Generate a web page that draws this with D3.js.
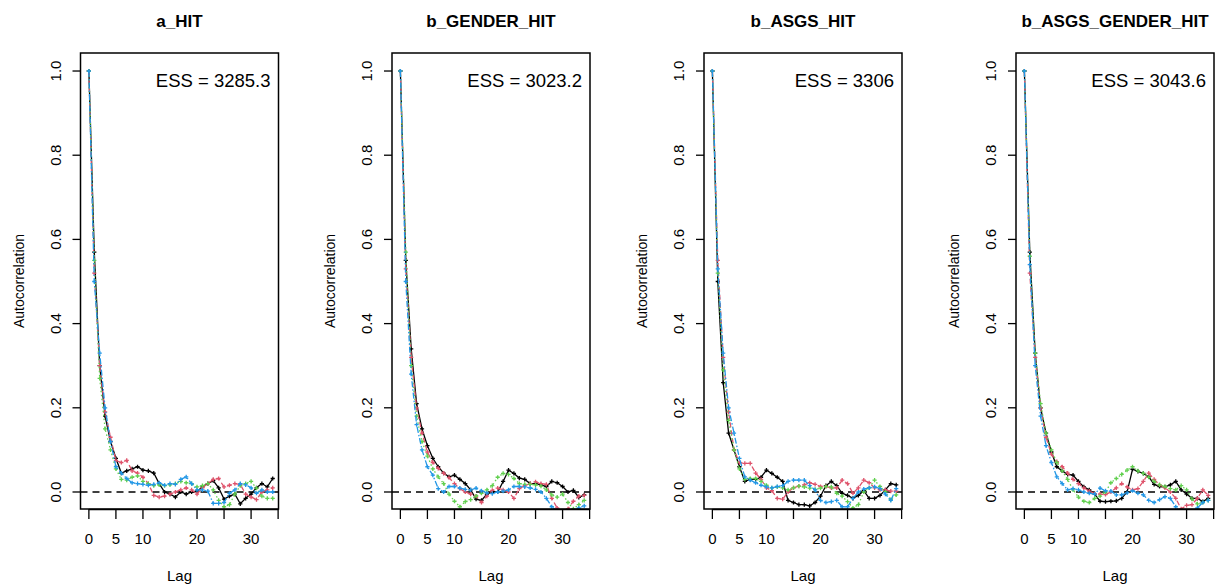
<!DOCTYPE html>
<html>
<head>
<meta charset="utf-8">
<script src="https://cdn.jsdelivr.net/npm/d3@7.9.0/dist/d3.min.js"></script>
<style>
  html, body { margin: 0; padding: 0; background: #fff; }
  svg { display: block; font-family: "Liberation Sans", Arial, sans-serif; }
</style>
</head>
<body>
<svg id="chart" width="1222" height="586"></svg>
<script>
// panel titles and ESS labels
const panelTitles = ['a_HIT', 'b_GENDER_HIT', 'b_ASGS_HIT', 'b_ASGS_GENDER_HIT'];
const essLabels = ['ESS = 3285.3', 'ESS = 3023.2', 'ESS = 3306', 'ESS = 3043.6'];

const lags = [0,1,2,3,4,5,6,7,8,9,10,11,12,13,14,15,16,17,18,19,20,21,22,23,24,25,26,27,28,29,30,31,32,33,34];
const xTicks = [0, 5, 10, 15, 20, 25, 30, 35];
const xTickLabels = ['0', '5', '10', '', '20', '', '30', ''];
const yTicks = [0, 0.2, 0.4, 0.6, 0.8, 1.0];

// chain colours (R 4 palette) and line styles
const chainColors = ['#000000', '#DF536B', '#61D04F', '#2297E6'];
const chainDash = [null, '5,3', '1.5,2.5', '6,2,1.5,2'];

// autocorrelation per chain
const acfAHit = [
  [1,0.57,0.30,0.18,0.12,0.08,0.045,0.05,0.055,0.06,0.052,0.05,0.045,0.02,0.0,-0.005,-0.012,0.0,-0.005,0.0,0.002,0.012,0.02,0.027,0.01,-0.017,-0.01,-0.005,-0.028,-0.015,-0.005,0.01,0.02,0.012,0.032],
  [1,0.52,0.30,0.19,0.13,0.075,0.07,0.075,0.05,0.045,0.035,0.02,-0.008,-0.012,-0.01,-0.005,0.0,0.005,0.01,0.005,-0.005,0.01,0.02,0.03,0.032,0.012,0.016,0.02,0.018,-0.005,-0.012,-0.018,0.0,0.005,0.01],
  [1,0.55,0.27,0.15,0.10,0.055,0.03,0.028,0.035,0.038,0.025,0.02,0.015,0.017,0.015,0.017,0.02,0.025,0.022,0.02,0.012,0.015,0.02,0.005,-0.02,-0.035,-0.03,-0.005,0.015,0.02,0.025,0.009,-0.01,-0.015,-0.015],
  [1,0.50,0.33,0.20,0.12,0.06,0.045,0.032,0.022,0.02,0.018,0.016,0.018,0.022,0.016,0.02,0.018,0.03,0.036,0.02,0.005,0.005,0.002,-0.027,-0.027,-0.025,-0.003,0.005,0.02,0.017,0.01,-0.003,0.005,0.0,0.0]
];
const acfGenderHit = [
  [1,0.55,0.34,0.21,0.15,0.11,0.08,0.06,0.045,0.036,0.04,0.03,0.02,0.005,-0.017,-0.02,-0.005,0.0,0.0,0.025,0.052,0.044,0.033,0.03,0.02,0.02,0.017,0.013,0.025,0.022,0.013,0.0,0.004,-0.013,-0.007],
  [1,0.53,0.32,0.20,0.14,0.095,0.07,0.056,0.045,0.034,0.02,0.008,0.0,-0.005,-0.01,-0.025,-0.01,0.004,0.009,0.005,0.0,-0.015,0.008,0.015,0.02,0.024,0.02,0.018,-0.015,-0.038,-0.046,-0.04,-0.022,-0.01,-0.008],
  [1,0.57,0.30,0.18,0.12,0.085,0.055,0.036,0.02,-0.005,-0.022,-0.035,-0.023,-0.018,-0.01,-0.003,0.005,0.015,0.035,0.044,0.042,0.032,0.02,0.018,0.018,0.017,0.014,0.005,-0.007,-0.012,-0.005,-0.025,-0.04,-0.03,-0.02],
  [1,0.50,0.28,0.16,0.10,0.06,0.04,0.008,0.0,0.013,0.013,0.009,0.006,0.005,0.009,0.003,-0.002,-0.004,0.0,0.002,0.005,0.013,0.013,0.012,0.01,0.006,0.0,-0.015,-0.035,-0.045,-0.05,-0.048,-0.045,-0.038,-0.033]
];
const acfAsgsHit = [
  [1,0.50,0.26,0.14,0.10,0.06,0.025,0.03,0.03,0.035,0.052,0.044,0.035,0.025,-0.02,-0.025,-0.03,-0.03,-0.033,-0.025,-0.01,0.015,0.025,0.015,-0.003,-0.008,-0.015,-0.008,0.003,-0.015,-0.015,-0.008,0.005,0.02,0.017],
  [1,0.55,0.32,0.19,0.10,0.07,0.068,0.068,0.045,0.03,0.01,0.003,-0.015,-0.017,0.0,0.01,0.014,0.017,0.022,0.018,0.013,0.013,0.01,0.01,0.028,0.02,-0.003,0.01,0.028,0.022,0.01,0.005,0.005,0.002,0.002],
  [1,0.52,0.29,0.17,0.10,0.055,0.03,0.032,0.032,0.025,0.016,0.01,0.012,0.01,0.005,0.01,0.014,0.012,0.009,0.006,0.009,0.013,0.012,-0.003,-0.01,-0.023,-0.038,-0.03,0.0,0.01,0.028,0.013,0.0,-0.018,-0.007],
  [1,0.53,0.33,0.20,0.14,0.08,0.036,0.028,0.022,0.016,0.012,0.01,0.013,0.015,0.025,0.028,0.028,0.028,0.015,0.005,-0.02,-0.025,-0.023,-0.02,-0.035,-0.035,-0.015,0.0,0.007,0.01,0.012,0.008,-0.005,-0.02,0.008]
];
const acfAsgsGenderHit = [
  [1,0.57,0.33,0.20,0.14,0.095,0.06,0.05,0.042,0.04,0.025,0.012,0.005,-0.005,-0.022,-0.023,-0.022,-0.021,-0.015,0.0,0.054,0.049,0.044,0.036,0.018,0.013,0.012,0.017,0.025,0.005,-0.005,-0.015,-0.015,-0.023,-0.015],
  [1,0.52,0.32,0.20,0.13,0.09,0.072,0.06,0.045,0.03,0.02,0.01,0.002,-0.004,-0.005,-0.006,0.0,0.01,0.02,0.012,0.005,0.008,0.025,0.045,0.03,0.017,0.01,0.0,-0.015,-0.04,-0.032,-0.03,-0.015,0.005,-0.008],
  [1,0.56,0.33,0.21,0.14,0.10,0.07,0.05,0.03,0.005,-0.012,-0.022,-0.025,-0.015,-0.01,0.0,0.022,0.032,0.042,0.052,0.06,0.05,0.044,0.035,0.025,0.017,0.013,0.008,0.005,0.015,0.005,-0.017,-0.028,-0.025,-0.02],
  [1,0.54,0.30,0.18,0.11,0.07,0.036,0.02,0.005,0.008,0.005,0.0,-0.003,-0.005,0.009,0.003,0.002,-0.007,-0.007,-0.002,0.003,-0.003,-0.007,-0.02,-0.025,-0.018,-0.011,-0.015,-0.035,-0.048,-0.05,-0.045,-0.038,-0.025,-0.02]
];
const panelData = [acfAHit, acfGenderHit, acfAsgsHit, acfAsgsGenderHit];

// layout
const boxLefts = [80.5, 392, 704, 1016];
const boxWidth = 198;
const boxTop = 53, boxBottom = 509;

const svg = d3.select('#chart');

const y = d3.scaleLinear().domain([-0.0404, 1.0428]).range([boxBottom, boxTop]);

panelData.forEach((chains, i) => {
  const left = boxLefts[i];
  const x = d3.scaleLinear().domain([-1.55, 35.07]).range([left, left + boxWidth]);
  const g = svg.append('g');
  const cx = left + boxWidth / 2;

  // clip to plot region
  const clipId = 'clip' + i;
  svg.append('clipPath').attr('id', clipId)
    .append('rect').attr('x', left).attr('y', boxTop)
    .attr('width', boxWidth).attr('height', boxBottom - boxTop);

  const plot = g.append('g').attr('clip-path', `url(#${clipId})`);

  // zero reference line
  plot.append('line')
    .attr('x1', left).attr('x2', left + boxWidth)
    .attr('y1', y(0)).attr('y2', y(0))
    .attr('stroke', '#000').attr('stroke-width', 1.5)
    .attr('stroke-dasharray', '7,5');

  const line = d3.line().x((d, k) => x(lags[k])).y(d => y(d));

  chains.forEach((vals, c) => {
    plot.append('path')
      .attr('d', line(vals))
      .attr('fill', 'none')
      .attr('stroke', chainColors[c])
      .attr('stroke-width', 1.3)
      .attr('stroke-dasharray', chainDash[c]);

    // "+" markers
    plot.append('g').selectAll('path')
      .data(vals)
      .join('path')
      .attr('d', (d, k) => {
        const px = x(lags[k]), py = y(d), s = 2.1;
        return `M${px - s},${py}H${px + s}M${px},${py - s}V${py + s}`;
      })
      .attr('stroke', chainColors[c])
      .attr('stroke-width', 1.3);
  });

  // box
  g.append('rect')
    .attr('x', left).attr('y', boxTop)
    .attr('width', boxWidth).attr('height', boxBottom - boxTop)
    .attr('fill', 'none').attr('stroke', '#000').attr('stroke-width', 1.5);

  // x axis
  const xAxis = g.append('g');
  xAxis.append('line')
    .attr('x1', x(0)).attr('x2', x(35))
    .attr('y1', boxBottom + 0.5).attr('y2', boxBottom + 0.5)
    .attr('stroke', '#000').attr('stroke-width', 1.3);
  xAxis.selectAll('line.tick').data(xTicks).join('line')
    .attr('class', 'tick')
    .attr('x1', d => x(d)).attr('x2', d => x(d))
    .attr('y1', boxBottom).attr('y2', boxBottom + 10)
    .attr('stroke', '#000').attr('stroke-width', 1.3);
  xAxis.selectAll('text').data(xTicks).join('text')
    .attr('x', d => x(d)).attr('y', 544)
    .attr('text-anchor', 'middle')
    .attr('font-size', 15)
    .text((d, k) => xTickLabels[k]);

  // y axis
  const yAxis = g.append('g');
  yAxis.selectAll('line').data(yTicks).join('line')
    .attr('x1', left - 8).attr('x2', left)
    .attr('y1', d => y(d)).attr('y2', d => y(d))
    .attr('stroke', '#000').attr('stroke-width', 1.3);
  yAxis.selectAll('text').data(yTicks).join('text')
    .attr('transform', d => `translate(${left - 20},${y(d)}) rotate(-90)`)
    .attr('text-anchor', 'middle')
    .attr('font-size', 15)
    .text(d => d3.format('.1f')(d));

  // axis titles
  g.append('text')
    .attr('x', cx).attr('y', 581)
    .attr('text-anchor', 'middle')
    .attr('font-size', 15)
    .text('Lag');
  g.append('text')
    .attr('transform', `translate(${left - 57},${(boxTop + boxBottom) / 2}) rotate(-90)`)
    .attr('text-anchor', 'middle')
    .attr('font-size', 14)
    .text('Autocorrelation');

  // title
  g.append('text')
    .attr('x', cx).attr('y', 27)
    .attr('text-anchor', 'middle')
    .attr('font-size', 17)
    .attr('font-weight', 'bold')
    .text(panelTitles[i]);

  // ESS label
  g.append('text')
    .attr('x', left + boxWidth - 8).attr('y', 87)
    .attr('text-anchor', 'end')
    .attr('font-size', 18.5)
    .text(essLabels[i]);
});
</script>
</body>
</html>
